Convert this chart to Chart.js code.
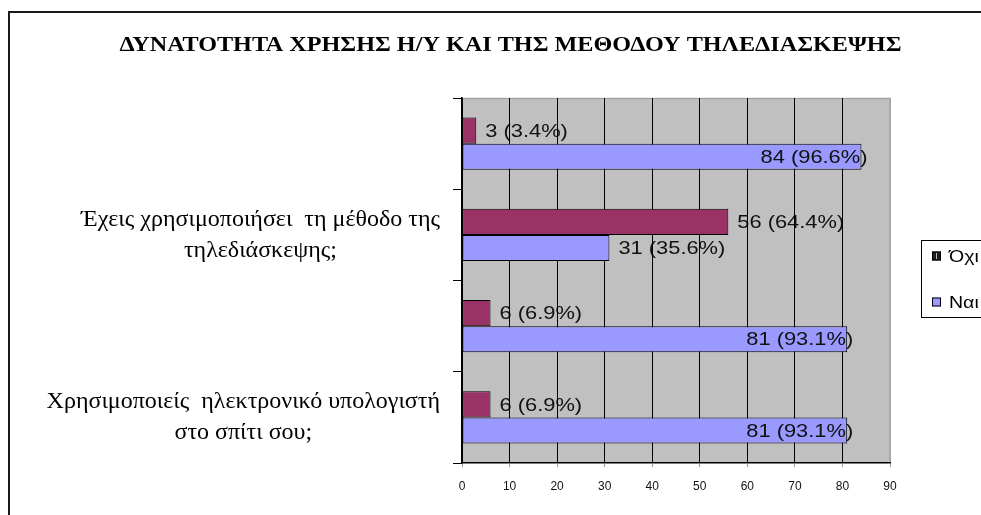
<!DOCTYPE html>
<html>
<head>
<meta charset="utf-8">
<script src="https://cdn.jsdelivr.net/npm/chart.js@4.4.0/dist/chart.umd.min.js"></script>
<style>
  html, body { margin: 0; padding: 0; background: #fff; overflow: hidden; }
  #wrap { width: 981px; height: 515px; position: relative; }
</style>
</head>
<body>
<div id="wrap"><canvas id="c" width="981" height="515"></canvas></div>
<script>
// Survey: computer use at home and use of videoconferencing
const chartTitle = 'ΔΥΝΑΤΟΤΗΤΑ ΧΡΗΣΗΣ Η/Υ ΚΑΙ ΤΗΣ ΜΕΘΟΔΟΥ ΤΗΛΕΔΙΑΣΚΕΨΗΣ';
const categories = [
  '',
  ['Έχεις χρησιμοποιήσει  τη μέθοδο της', 'τηλεδιάσκεψης;'],
  '',
  ['Χρησιμοποιείς  ηλεκτρονικό υπολογιστή', 'στο σπίτι σου;']
];
const seriesNames = ['Όχι', 'Ναι'];
const noValues = [3, 56, 6, 6];
const yesValues = [84, 31, 81, 81];
const valueTicks = [0, 10, 20, 30, 40, 50, 60, 70, 80, 90];

const SERIF = '"Liberation Serif", "Times New Roman", serif';
const SANS = '"Liberation Sans", Arial, sans-serif';
const labelFont = '19px ' + SANS;
const WIDE = 1.15;   // horizontal widening of the sans-serif texts

function pctText(v, i) {
  const total = noValues[i] + yesValues[i];
  return v + ' (' + (v / total * 100).toFixed(1) + '%)';
}

// write text widened horizontally, anchored at (x, y)
function wideText(ctx, txt, x, y, align, k) {
  const w = ctx.measureText(txt).width * k;
  const left = align === 'right' ? x - w : align === 'center' ? x - w / 2 : x;
  ctx.save();
  ctx.translate(left, y);
  ctx.scale(k, 1);
  ctx.textAlign = 'left';
  ctx.fillText(txt, 0, 0);
  ctx.restore();
  return w;
}

// background, frame, title and plot area fill
function drawBackdrop(chart) {
  const ctx = chart.ctx, a = chart.chartArea;
  ctx.save();
  ctx.fillStyle = '#fff';
  ctx.fillRect(0, 0, chart.width, chart.height);
  ctx.strokeStyle = '#1a1a1a';
  ctx.lineWidth = 2;
  ctx.strokeRect(9, 12, 1100, 700);

  ctx.fillStyle = '#000';
  ctx.font = 'bold 20px ' + SERIF;
  ctx.textBaseline = 'alphabetic';
  wideText(ctx, chartTitle, 510.5, 51, 'center', 1.21);

  ctx.fillStyle = '#c0c0c0';
  ctx.fillRect(a.left, a.top, a.right - a.left, a.bottom - a.top);
  ctx.strokeStyle = '#a4a4a4';
  ctx.lineWidth = 1.5;
  ctx.beginPath();
  ctx.moveTo(a.left, a.top + 0.5);
  ctx.lineTo(a.right, a.top + 0.5);
  ctx.lineTo(a.right, a.bottom);
  ctx.stroke();
  ctx.restore();
}

// "value (percent)" labels: beside the bar when they fit, else at the bar end
function valueLabels(chart, inside) {
  const ctx = chart.ctx, a = chart.chartArea;
  ctx.save();
  ctx.font = labelFont;
  ctx.fillStyle = '#111';
  ctx.textBaseline = 'middle';
  chart.data.datasets.forEach((ds, di) => {
    chart.getDatasetMeta(di).data.forEach((bar, i) => {
      const txt = pctText(ds.data[i], i);
      const w = ctx.measureText(txt).width * WIDE;
      const fits = bar.x + 9 + w <= a.right;
      if (fits && !inside) {
        wideText(ctx, txt, bar.x + 9, bar.y + 1, 'left', WIDE);
      } else if (!fits && inside) {
        wideText(ctx, txt, bar.x + 6, bar.y + 1, 'right', WIDE);
      }
    });
  });
  ctx.restore();
}

function categoryLabels(chart) {
  const ctx = chart.ctx, y = chart.scales.y;
  const right = 440, lineH = 31;
  ctx.save();
  ctx.font = '24px ' + SERIF;
  ctx.fillStyle = '#000';
  ctx.textAlign = 'center';
  ctx.textBaseline = 'middle';
  chart.data.labels.forEach((lab, i) => {
    const lines = Array.isArray(lab) ? lab : [lab];
    if (!lines.join('')) return;
    const block = Math.max(...lines.map(l => ctx.measureText(l).width));
    const cx = right - block / 2;
    const cy = y.getPixelForValue(i);
    lines.forEach((l, k) => {
      ctx.fillText(l, cx, cy + (k - (lines.length - 1) / 2) * lineH);
    });
  });
  ctx.restore();
}

function legendBox(chart) {
  const ctx = chart.ctx;
  const x0 = 921.5, y0 = 240.5;
  ctx.save();
  ctx.strokeStyle = '#000';
  ctx.lineWidth = 1;
  ctx.strokeRect(x0, y0, 120, 77);
  ctx.font = '17px ' + SANS;
  ctx.textBaseline = 'middle';
  const rows = [256, 302];
  chart.data.datasets.forEach((ds, di) => {
    const cy = rows[di];
    ctx.fillStyle = di === 0 ? '#1e1e1e' : ds.backgroundColor;
    ctx.fillRect(932, cy - 4.5, 9, 9);
    ctx.strokeStyle = '#000';
    ctx.strokeRect(932.5, cy - 4, 8, 8);
    if (di === 0) {
      ctx.fillStyle = '#bbb';
      ctx.fillRect(936, cy - 3, 1, 6);
    }
    ctx.fillStyle = '#000';
    wideText(ctx, ds.label, 949, cy + 1, 'left', WIDE);
  });
  ctx.restore();
}

const decor = {
  id: 'decor',
  beforeDraw(chart) { drawBackdrop(chart); valueLabels(chart, false); },
  afterDatasetsDraw(chart) { valueLabels(chart, true); },
  afterDraw(chart) { categoryLabels(chart); legendBox(chart); }
};

new Chart(document.getElementById('c'), {
  type: 'bar',
  data: {
    labels: categories,
    datasets: [
      { label: seriesNames[0], data: noValues, backgroundColor: '#993366', borderColor: '#000', borderWidth: 1, borderSkipped: false },
      { label: seriesNames[1], data: yesValues, backgroundColor: '#9999ff', borderColor: '#000', borderWidth: 1, borderSkipped: false }
    ]
  },
  options: {
    indexAxis: 'y',
    responsive: false,
    animation: false,
    devicePixelRatio: 1,
    categoryPercentage: 0.57,
    barPercentage: 1,
    layout: { padding: { left: 130, right: 91, top: 98, bottom: 12 } },
    plugins: {
      legend: { display: false },
      tooltip: { enabled: false },
      title: { display: false }
    },
    scales: {
      x: {
        type: 'linear',
        min: 0,
        max: 90,
        afterBuildTicks(scale) { scale.ticks = valueTicks.map(v => ({ value: v })); },
        afterFit(scale) { scale.height = 40; },
        grid: {
          color: c => (c.tick && c.tick.value === 90) ? '#a4a4a4' : '#000',
          lineWidth: 1,
          drawTicks: true,
          tickLength: 4,
          tickColor: '#9a9a9a'
        },
        border: { display: true, color: '#000', width: 1.5 },
        ticks: { font: { family: SANS, size: 12 }, color: '#111', padding: 12 }
      },
      y: {
        type: 'category',
        afterFit(scale) { scale.width = 332; },
        grid: { drawOnChartArea: false, drawTicks: true, tickLength: 9, color: '#000', offset: true },
        border: { display: true, color: '#000', width: 1.5 },
        ticks: { display: false }
      }
    }
  },
  plugins: [decor]
});
</script>
</body>
</html>
